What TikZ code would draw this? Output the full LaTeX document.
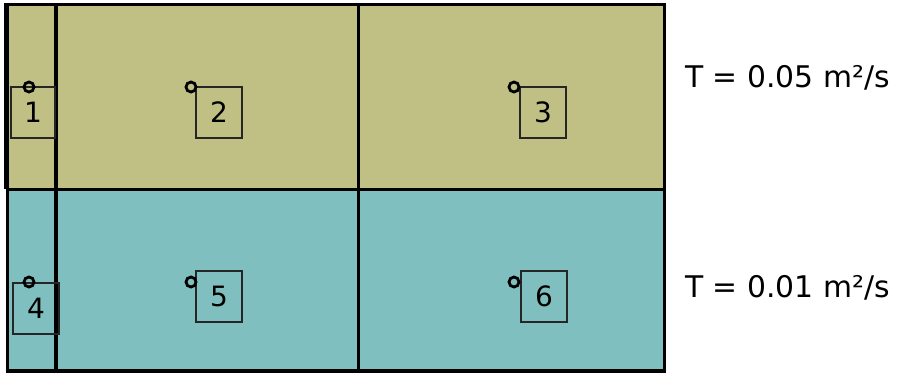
\documentclass[tikz,border=0pt]{standalone}
\usepackage{fontspec}
\setmainfont{DejaVu Sans}
\begin{document}
\begin{tikzpicture}[x=1pt,y=-1pt,
  cellline/.style={line width=3.6pt,draw=black},
  wellbox/.style={draw=black!85,line width=1.6pt,minimum width=46pt,minimum height=51pt,inner sep=0pt,outer sep=0pt,font=\fontsize{28}{30}\selectfont,anchor=north west},
  wellpt/.style={draw=black,line width=2.8pt,circle,minimum size=10pt,inner sep=0pt},
  tlabel/.style={font=\fontsize{29.8}{32}\selectfont,anchor=base west,inner sep=0pt}]
\useasboundingbox (0,0) rectangle (897,374);
\definecolor{olive}{RGB}{192,192,133}
\definecolor{teal}{RGB}{128,191,191}
% bands
\fill[olive] (4,4.5) rectangle (664.5,189.5);
\fill[teal] (7.5,189.5) rectangle (664.5,371);
% grid lines
\draw[cellline] (4,4.5) -- (664.5,4.5) -- (664.5,371) -- (7.5,371) -- (7.5,4.5);
\draw[line width=1.8pt] (5,4.5) -- (5,189.5);
\draw[cellline] (7.5,189.5) -- (664.5,189.5);
\draw[cellline] (56,4.5) -- (56,371);
\draw[cellline] (358.5,4.5) -- (358.5,371);
% wells
\node[wellbox,minimum width=44pt] (b1) at (11,87) {1};
\node[wellbox] (b2) at (196,87) {2};
\node[wellbox] (b3) at (520,87) {3};
\node[wellbox] (b4) at (13,283) {4};
\node[wellbox] (b5) at (196,271) {5};
\node[wellbox] (b6) at (521,271) {6};
\node[wellpt] (w1) at (29,87) {};
\node[wellpt] (w2) at (191,87) {};
\node[wellpt] (w3) at (514,87) {};
\node[wellpt] (w4) at (29,282) {};
\node[wellpt] (w5) at (191,282) {};
\node[wellpt] (w6) at (514,282) {};
% labels
\node[tlabel] (t1) at (685,88) {T = 0.05 m²/s};
\node[tlabel] (t2) at (685,297) {T = 0.01 m²/s};
\end{tikzpicture}
\end{document}
